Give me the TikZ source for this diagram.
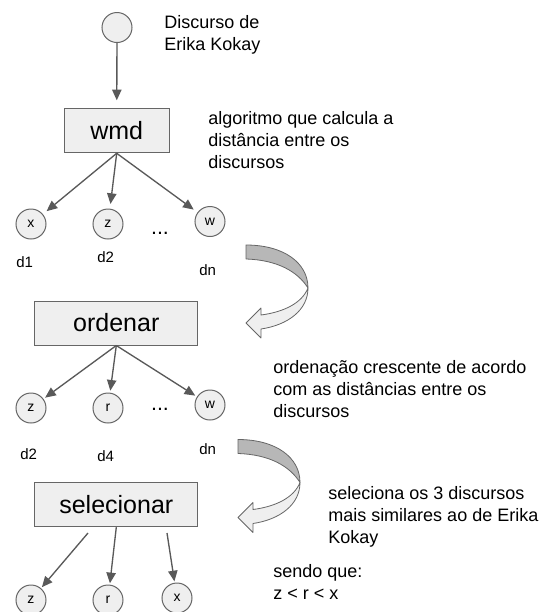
\documentclass[tikz,border=0pt]{standalone}
\usepackage{fontspec}
\setmainfont{Liberation Sans}
\usetikzlibrary{arrows.meta}
\definecolor{lineg}{HTML}{666666}
\definecolor{arrowg}{HTML}{595959}
\definecolor{fillg}{HTML}{EFEFEF}
\definecolor{backg}{HTML}{B7B7B7}
\tikzset{
  doc/.style={circle, draw=lineg, fill=fillg, line width=0.75pt, minimum size=22.5pt, inner sep=0pt, font=\fontsize{10.5}{11}\selectfont},
  stepbox/.style={rectangle, draw=lineg, fill=fillg, line width=0.75pt, minimum height=33pt, inner sep=0pt, font=\fontsize{18.75}{20}\selectfont},
  link/.style={draw=arrowg, line width=1pt, -{Triangle[length=8pt,width=7pt]}},
  note/.style={anchor=base west, inner sep=0pt, align=left, font=\fontsize{13.5}{16.5}\selectfont},
  dlabel/.style={anchor=base west, inner sep=0pt, font=\fontsize{11.25}{13}\selectfont},
  dots/.style={anchor=base, inner sep=0pt, font=\fontsize{16}{18}\selectfont},
  bandback/.style={draw=lineg, fill=backg, line width=0.6pt, line join=round},
  bandfront/.style={draw=lineg, fill=fillg, line width=0.6pt, line join=round},
  bendarrow/.pic={
    \filldraw[bandback] (0,0) .. controls (38,0) and (62,18) .. (62,43) .. controls (52,27) and (32,15) .. (0,14) -- cycle;
    \filldraw[bandfront] (62,43) .. controls (62,65) and (42,80) .. (15,84) -- (15,93) -- (0,78) -- (15,63) -- (15,70) .. controls (38,67) and (56,58) .. (62,43) -- cycle;
  },
}
\begin{document}
\begin{tikzpicture}[x=0.75pt, y=-0.75pt]
\useasboundingbox (0,0) rectangle (546,612);
\node[doc] (src) at (117,27.5) {};
\node[note] (srcnote) at (164,50) {Discurso de\\Erika Kokay};
\node[stepbox, minimum width=78.5pt] (wmd) at (116.7,130.8) {wmd};
\node[note] (wmdnote) at (208,168) {algoritmo que calcula a\\distância entre os\\discursos};
\node[doc] (wx) at (31,224) {x};
\node[doc] (wz) at (108,224) {z};
\node[doc] (ww) at (210,221.5) {w};
\node[dots] (wdots) at (160,234) {...};
\node[dlabel] (wd1) at (16,267.5) {d1};
\node[dlabel] (wd2) at (97,262) {d2};
\node[dlabel] (wdn) at (199,275) {dn};
\draw[link, shorten >=6pt] (src) -- (wmd);
\draw[link, shorten >=3.5pt] (wmd.south) -- (wx);
\draw[link, shorten >=3.5pt] (wmd.south) -- (wz);
\draw[link, shorten >=3.5pt] (wmd.south) -- (ww);
\pic at (246,245) {bendarrow};
\node[stepbox, minimum width=122pt] (ord) at (116.3,323) {ordenar};
\node[note] (ordnote) at (273,417) {ordenação crescente de acordo\\com as distâncias entre os\\discursos};
\node[doc] (oz) at (31,408) {z};
\node[doc] (or) at (108,408) {r};
\node[doc] (ow) at (210,405) {w};
\node[dots] (odots) at (160,410) {...};
\node[dlabel] (od2) at (20,459) {d2};
\node[dlabel] (od4) at (97,461) {d4};
\node[dlabel] (odn) at (199,454) {dn};
\draw[link, shorten >=1.5pt] (ord.south) -- (oz);
\draw[link, shorten >=1.5pt] (ord.south) -- (or);
\draw[link, shorten >=1.5pt] (ord.south) -- (ow);
\pic at (238,439.5) {bendarrow};
\node[stepbox, minimum width=122pt] (sel) at (116.3,504.7) {selecionar};
\node[note] (selnote) at (328,543) {seleciona os 3 discursos\\mais similares ao de Erika\\Kokay};
\node[note] (endnote) at (273,599) {sendo que:\\z < r < x};
\node[doc] (sz) at (31,600) {z};
\node[doc] (sr) at (108,600) {r};
\node[doc] (sx) at (177,598) {x};
\coordinate (selz) at (88,533);
\coordinate (selx) at (167,533);
\draw[link, shorten >=1pt] (selz) -- (sz);
\draw[link, shorten >=1pt] (sel.south) -- (sr);
\draw[link, shorten >=1pt] (selx) -- (sx);
\end{tikzpicture}
\end{document}
